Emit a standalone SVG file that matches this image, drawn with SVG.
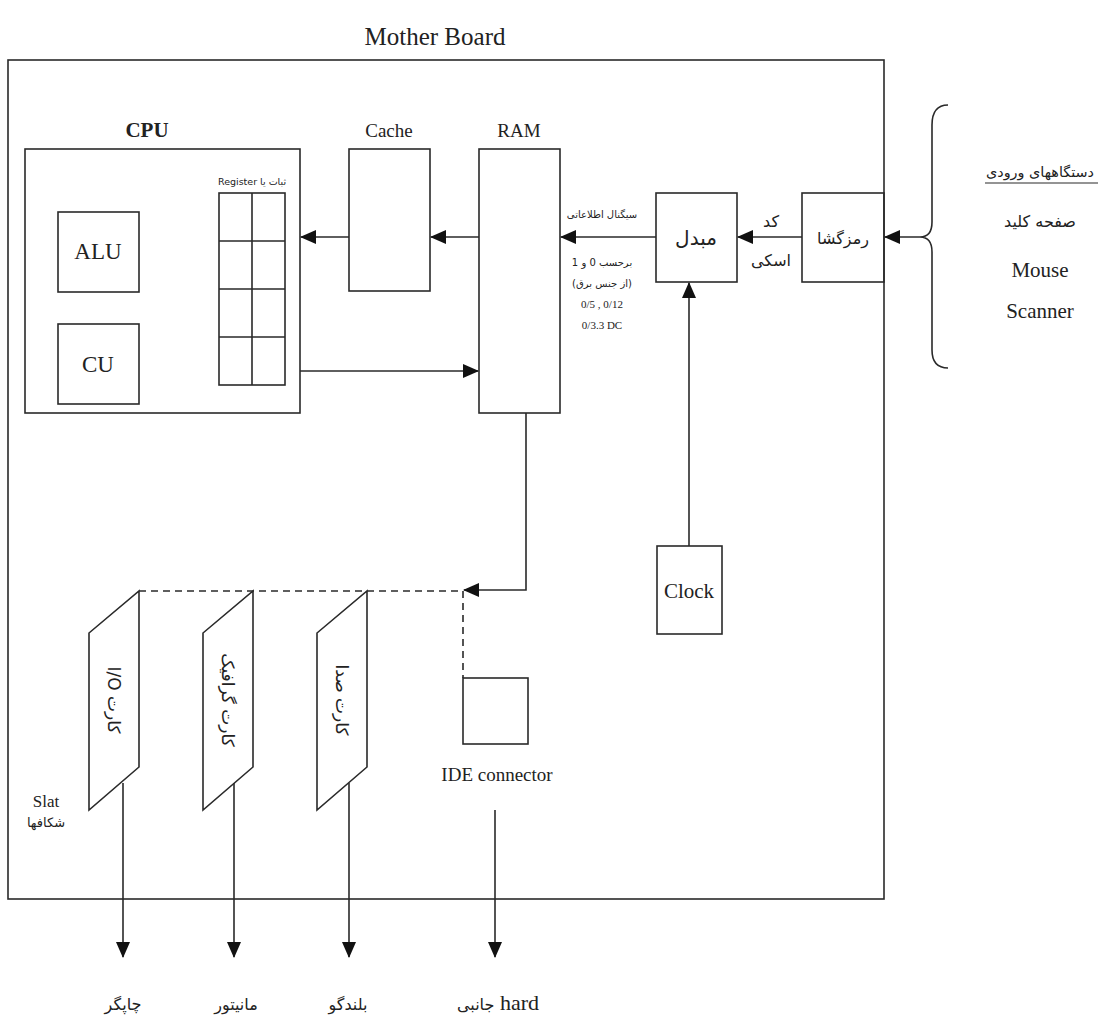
<svg xmlns="http://www.w3.org/2000/svg" width="1103" height="1023" viewBox="0 0 1103 1023">
<style>
.box{fill:none;stroke:#2a2a2a;stroke-width:1.6}
.ln{fill:none;stroke:#2a2a2a;stroke-width:1.6}
.dash{fill:none;stroke:#2a2a2a;stroke-width:1.6;stroke-dasharray:7,5}
.en{font-family:"Liberation Serif",serif;fill:#222;text-anchor:middle}
.fa{font-family:"DejaVu Sans","Noto Sans",sans-serif;fill:#222;text-anchor:middle}
</style>
<defs>
<marker id="ah" markerUnits="userSpaceOnUse" markerWidth="16" markerHeight="14" refX="15" refY="7" orient="auto">
<path d="M0,0 L16,7 L0,14 Z" fill="#111"/>
</marker>
</defs>
<rect width="1103" height="1023" fill="#fff"/>
<text class="en" x="435" y="45" font-size="25">Mother Board</text>
<g id="motherboard"><rect class="box" x="8" y="60" width="876" height="839"/></g>
<g id="cpu">
<text class="en" x="147" y="137" font-size="21" font-weight="bold">CPU</text>
<rect class="box" x="25" y="149" width="275" height="264"/>
</g>
<g id="alu"><rect class="box" x="58" y="212" width="81" height="80"/><text class="en" x="98" y="259" font-size="23">ALU</text></g>
<g id="cu"><rect class="box" x="58" y="324" width="81" height="80"/><text class="en" x="98" y="372" font-size="23">CU</text></g>
<g id="register">
<text class="fa" x="252" y="185" font-size="9.5" direction="rtl">ثبات یا Register</text>
<rect class="box" x="219" y="193" width="66" height="192"/>
<path class="ln" d="M252,193 V385 M219,241 H285 M219,289 H285 M219,337 H285"/>
</g>
<g id="cache"><text class="en" x="389" y="137" font-size="19">Cache</text><rect class="box" x="349" y="149" width="81" height="142"/></g>
<g id="ram"><text class="en" x="519" y="137" font-size="19">RAM</text><rect class="box" x="479" y="149" width="81" height="264"/></g>
<g id="converter"><rect class="box" x="656" y="193" width="81" height="89"/><text class="fa" x="696" y="245" font-size="20">مبدل</text></g>
<g id="decoder"><rect class="box" x="802" y="193" width="82" height="89"/><text class="fa" x="843" y="244" font-size="16">رمزگشا</text></g>
<g id="clock"><rect class="box" x="657" y="546" width="65" height="88"/><text class="en" x="689" y="598" font-size="21">Clock</text></g>
<g id="ide"><rect class="box" x="463" y="678" width="65" height="66"/><text class="en" x="497" y="781" font-size="19">IDE connector</text></g>
<g id="card-io"><path class="box" d="M89,633 L139,591 L139,767 L89,810 Z"/><text class="fa" transform="translate(114,700) rotate(90)" font-size="17" direction="rtl" dominant-baseline="central">کارت I/O</text></g>
<g id="card-graphic"><path class="box" d="M203,633 L253,591 L253,767 L203,810 Z"/><text class="fa" transform="translate(228,700) rotate(90)" font-size="17" direction="rtl" dominant-baseline="central">کارت گرافیک</text></g>
<g id="card-sound"><path class="box" d="M317,633 L367,591 L367,767 L317,810 Z"/><text class="fa" transform="translate(342,700) rotate(90)" font-size="17" direction="rtl" dominant-baseline="central">کارت صدا</text></g>
<g id="slat"><text class="en" x="46" y="807" font-size="17">Slat</text><text class="fa" x="46" y="827" font-size="13">شکافها</text></g>
<g id="input-devices">
<path class="ln" d="M948,105 Q932,105 932,125 V222 Q932,237 920,237 Q932,237 932,252 V350 Q932,368 948,368"/>
<text class="fa" x="1040" y="177" font-size="14" textLength="108" lengthAdjust="spacingAndGlyphs">دستگاههای ورودی</text>
<line class="ln" x1="985" y1="183" x2="1098" y2="183" style="stroke-width:1.2"/>
<text class="fa" x="1040" y="227" font-size="16">صفحه کلید</text>
<text class="en" x="1040" y="277" font-size="21">Mouse</text>
<text class="en" x="1040" y="318" font-size="21">Scanner</text>
</g>
<g id="labels">
<text class="fa" x="602" y="218" font-size="10" direction="rtl">سیگنال اطلاعاتی</text>
<text class="fa" x="602" y="266" font-size="10" direction="rtl">برحسب 0 و 1</text>
<text class="fa" x="602" y="287" font-size="10" direction="rtl">(از جنس برق)</text>
<text class="en" x="602" y="308" font-size="11">0/5 , 0/12</text>
<text class="en" x="602" y="329" font-size="11">0/3.3 DC</text>
<text class="fa" x="771" y="227" font-size="16">کد</text>
<text class="fa" x="771" y="266" font-size="16">اسکی</text>
<text class="fa" x="123" y="1010" font-size="16">چاپگر</text>
<text class="fa" x="236" y="1010" font-size="16">مانیتور</text>
<text class="fa" x="348" y="1010" font-size="16">بلندگو</text>
<text class="en" x="498" y="1010" font-size="22"><tspan font-family="DejaVu Sans" font-size="16">جانبی</tspan> hard</text>
</g>
<g id="connectors">
<line class="ln" x1="479" y1="237" x2="431" y2="237" marker-end="url(#ah)"/>
<line class="ln" x1="349" y1="237" x2="301" y2="237" marker-end="url(#ah)"/>
<line class="ln" x1="300" y1="371" x2="478" y2="371" marker-end="url(#ah)"/>
<line class="ln" x1="656" y1="237" x2="561" y2="237" marker-end="url(#ah)"/>
<line class="ln" x1="802" y1="237" x2="738" y2="237" marker-end="url(#ah)"/>
<line class="ln" x1="920" y1="237" x2="885" y2="237" marker-end="url(#ah)"/>
<line class="ln" x1="689" y1="546" x2="689" y2="283" marker-end="url(#ah)"/>
<polyline class="ln" points="526,413 526,590 464,590" marker-end="url(#ah)"/>
<line class="dash" x1="139" y1="591" x2="463" y2="591"/>
<line class="dash" x1="463" y1="591" x2="463" y2="678"/>
<line class="ln" x1="123" y1="783" x2="123" y2="957" marker-end="url(#ah)"/>
<line class="ln" x1="234" y1="783" x2="234" y2="957" marker-end="url(#ah)"/>
<line class="ln" x1="349" y1="783" x2="349" y2="957" marker-end="url(#ah)"/>
<line class="ln" x1="495" y1="810" x2="495" y2="957" marker-end="url(#ah)"/>
</g>
</svg>
